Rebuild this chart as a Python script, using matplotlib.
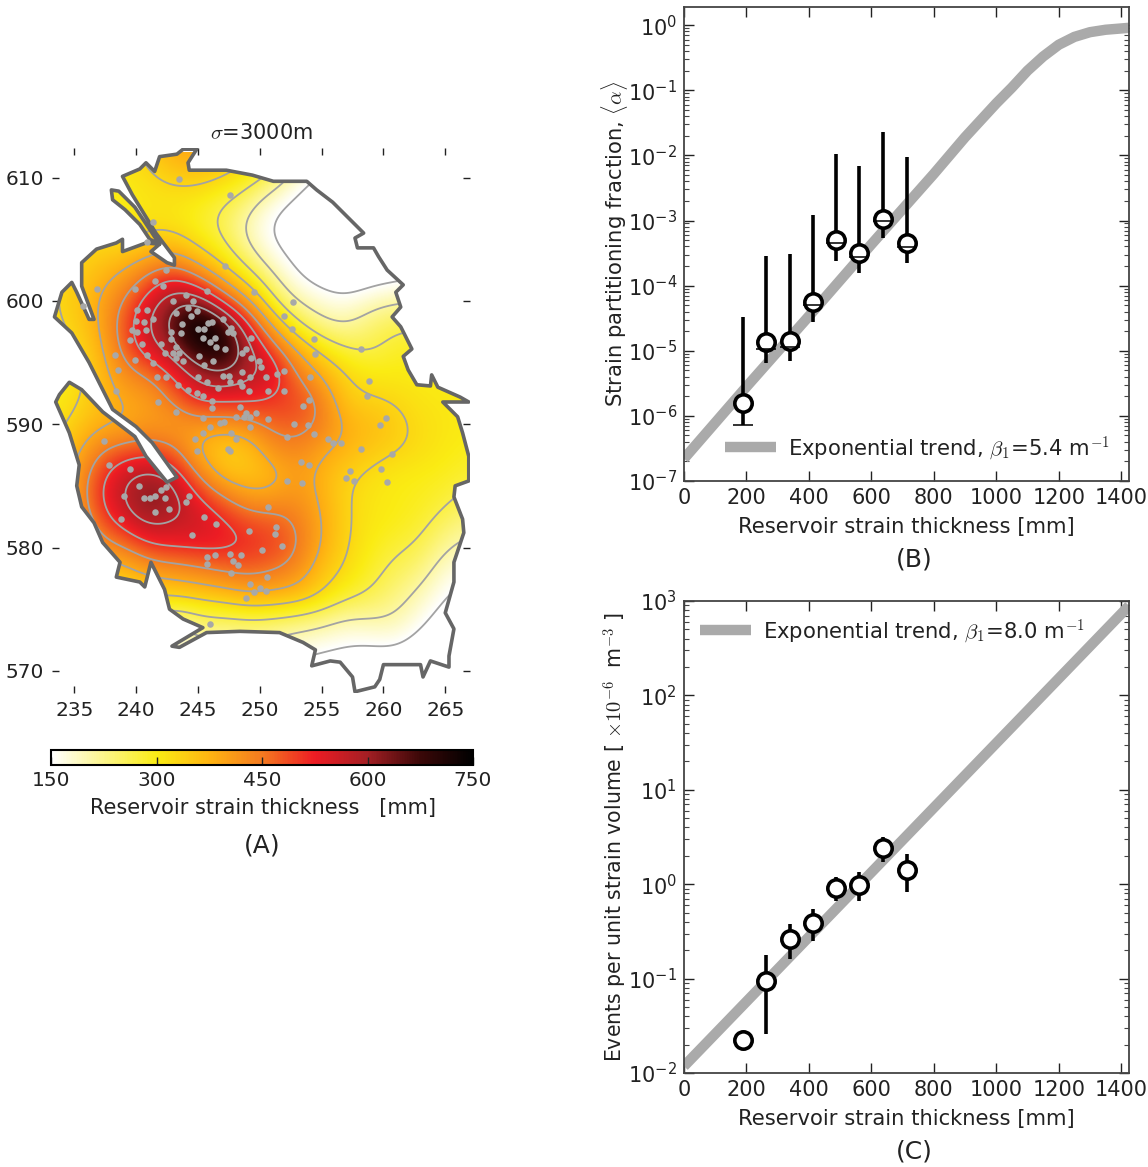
import numpy as np
import matplotlib
matplotlib.use("Agg")
import matplotlib.pyplot as plt
import matplotlib.ticker as mticker
import matplotlib.tri as mtri
from matplotlib.colors import LinearSegmentedColormap
from matplotlib.path import Path
from matplotlib.patches import PathPatch

W, H = 1148, 1167
plt.rcParams["font.family"] = "DejaVu Sans"
plt.rcParams["mathtext.fontset"] = "dejavusans"

# thickness [mm], one list per easting, northing 612 down to 568
grid_y = [612, 610, 608, 606, 604, 602, 600, 598, 596, 594, 592, 590, 588, 586, 584, 582, 580, 578, 576, 574, 572, 570, 568]
grid_x = [233, 235, 237, 239, 241, 243, 245, 247, 249, 251, 253, 255, 257, 259, 261, 263, 265, 267]
c233 = [300, 300, 300, 300, 305, 315, 320, 315, 305, 295, 295, 305, 320, 330, 330, 320, 295, 265, 230, 195, 170, 145, 125]
c235 = [300, 300, 300, 305, 320, 340, 345, 340, 320, 310, 320, 340, 370, 390, 395, 370, 330, 290, 250, 210, 180, 150, 130]
c237 = [310, 300, 300, 305, 340, 370, 390, 385, 370, 360, 360, 380, 440, 495, 510, 480, 420, 350, 290, 240, 200, 160, 130]
c239 = [320, 305, 300, 305, 345, 400, 450, 480, 470, 425, 395, 385, 470, 555, 575, 530, 440, 360, 300, 240, 200, 160, 130]
c241 = [340, 320, 310, 320, 370, 460, 540, 575, 540, 450, 400, 410, 480, 590, 635, 590, 500, 400, 330, 250, 200, 160, 130]
c243 = [390, 340, 310, 315, 385, 510, 615, 650, 600, 510, 460, 395, 460, 545, 605, 565, 515, 410, 332, 205, 170, 135, 110]
c245 = [400, 345, 300, 290, 335, 445, 620, 770, 700, 590, 530, 420, 370, 440, 520, 565, 520, 430, 340, 250, 190, 150, 130]
c247 = [380, 330, 275, 260, 295, 370, 490, 700, 720, 630, 520, 415, 345, 355, 460, 525, 525, 450, 350, 250, 190, 150, 130]
c249 = [350, 300, 240, 195, 225, 300, 400, 530, 600, 585, 520, 430, 350, 350, 405, 490, 510, 465, 380, 255, 200, 160, 130]
c251 = [310, 265, 170, 140, 160, 220, 285, 385, 490, 565, 500, 470, 425, 365, 405, 480, 495, 450, 370, 250, 195, 150, 120]
c253 = [250, 185, 135, 120, 130, 150, 205, 285, 385, 450, 495, 470, 440, 410, 420, 450, 460, 425, 360, 240, 170, 130, 110]
c255 = [200, 135, 105, 100, 105, 125, 175, 225, 320, 385, 445, 445, 395, 375, 385, 390, 385, 350, 325, 225, 160, 120, 100]
c257 = [150, 105, 85, 85, 95, 110, 160, 210, 275, 330, 345, 380, 375, 340, 330, 335, 330, 320, 280, 195, 150, 110, 95]
c259 = [110, 90, 80, 85, 100, 120, 190, 245, 265, 305, 335, 365, 350, 320, 310, 305, 300, 285, 262, 205, 145, 110, 90]
c261 = [90, 80, 80, 85, 100, 130, 205, 265, 290, 305, 325, 345, 335, 305, 300, 300, 275, 255, 230, 205, 150, 110, 90]
c263 = [90, 80, 80, 85, 100, 150, 210, 270, 290, 300, 310, 320, 320, 300, 295, 285, 265, 235, 195, 160, 120, 100, 90]
c265 = [90, 90, 90, 100, 120, 160, 220, 270, 290, 300, 305, 310, 305, 295, 280, 250, 215, 175, 150, 120, 100, 90, 90]
c267 = [100, 100, 110, 120, 150, 190, 240, 280, 295, 300, 300, 300, 295, 280, 255, 225, 190, 155, 125, 105, 90, 90, 90]

outline_x = [238.9, 240.3, 240.8, 241.5, 241.9, 243.3, 243.8, 244.9, 244.2, 244.3, 247.3, 249.4, 251.1, 253.8, 254.6, 255.9, 257.3, 258.4, 257.7, 257.9,
             259.2, 259.6, 260.3, 261.6, 261.0, 261.4, 260.7, 261.4, 262.3, 261.6, 262.0, 262.7, 263.8, 263.9, 264.4, 266.2, 266.9, 264.8, 266.0, 266.4,
             266.9, 266.9, 265.8, 265.7, 266.4, 266.5, 265.7, 265.7, 265.0, 265.7, 265.3, 265.3, 263.8, 263.2, 263.0, 260.0, 259.7, 259.3, 257.7, 257.5,
             256.5, 255.7, 254.2, 254.5, 253.5, 251.6, 248.4, 245.7, 243.5, 242.9, 245.4, 243.8, 242.7, 242.3, 241.2, 240.7, 240.3, 238.4, 238.7, 237.3,
             236.6, 235.6, 235.2, 235.4, 234.6, 233.5, 233.8, 234.6, 235.6, 237.3, 239.9, 240.8, 242.5, 243.3, 241.3, 240.0, 238.1, 237.6, 236.2, 234.8,
             233.4, 234.0, 234.8, 235.2, 236.2, 236.6, 235.6, 235.6, 236.8, 238.4, 238.9, 238.9, 240.8, 241.9, 241.2, 242.5, 243.1, 243.1, 241.6, 239.7]
outline_y = [610.1, 610.7, 611.2, 610.5, 611.7, 611.9, 612.3, 612.3, 611.2, 610.6, 610.6, 610.2, 609.7, 609.7, 609.0, 608.0, 606.6, 605.5, 605.1, 604.3,
             604.3, 603.6, 602.5, 601.3, 600.7, 599.5, 598.7, 597.9, 596.1, 595.5, 594.4, 593.2, 593.1, 594.0, 593.0, 592.2, 591.8, 591.8, 590.6, 589.3,
             587.4, 585.4, 585.0, 584.1, 582.3, 581.2, 578.8, 577.2, 574.7, 573.4, 571.2, 570.3, 570.8, 569.5, 570.5, 570.5, 569.3, 568.7, 568.3, 569.5,
             570.7, 570.8, 570.4, 571.7, 572.3, 573.1, 573.2, 573.1, 571.9, 572.0, 573.5, 574.2, 575.0, 576.6, 578.8, 576.8, 577.2, 577.6, 578.8, 580.4,
             582.0, 583.3, 585.0, 586.7, 589.3, 591.8, 592.4, 593.4, 592.8, 591.0, 589.0, 587.4, 585.3, 585.7, 588.5, 589.8, 591.2, 592.2, 595.0, 597.4,
             598.7, 600.7, 601.5, 600.7, 598.5, 598.5, 601.2, 603.1, 604.2, 604.7, 605.0, 604.0, 604.7, 604.6, 604.0, 603.1, 602.9, 603.5, 605.5, 608.6]
strip_x = [238.0, 238.6, 239.9, 241.1, 241.9, 241.1, 240.3, 239.1, 238.1]
strip_y = [609.0, 608.9, 607.6, 605.8, 604.6, 605.0, 606.2, 607.4, 608.2]

well_x = [243.5, 247.6, 241.4, 240.9, 247.2, 242.4, 241.5, 242.2, 239.9, 236.8, 235.7, 245.7, 249.5, 244.0, 243.0, 244.6, 244.2, 240.1, 240.9, 243.2,
          244.9, 244.4, 240.0, 241.4, 240.6, 246.1, 245.8, 247.0, 245.0, 245.5, 243.7, 247.7, 247.4, 240.1, 239.7, 240.8, 242.8, 243.6, 239.5, 240.5,
          245.4, 246.4, 246.0, 242.8, 242.0, 243.2, 246.5, 247.2, 247.8, 249.3, 248.9, 240.9, 238.3, 239.9, 241.4, 242.3, 243.0, 243.5, 243.2, 243.8,
          245.1, 245.5, 246.2, 248.6, 249.3, 249.9, 250.1, 238.5, 242.4, 241.7, 245.0, 245.7, 247.0, 247.5, 248.6, 250.5, 251.4, 249.2, 248.4, 247.6,
          243.4, 238.4, 244.2, 244.9, 245.4, 246.6, 248.6, 249.1, 250.7, 241.8, 246.1, 243.2, 248.4, 246.1, 248.9, 248.1, 248.7, 249.2, 245.4,
          252.7, 252.0, 252.6, 254.4, 254.5, 258.2, 258.8, 258.7, 254.1, 252.0, 252.0, 254.0, 253.5, 260.2, 259.7, 255.5, 255.9, 256.6, 258.2, 260.7,
          253.3, 254.0, 252.2, 253.4, 257.3, 257.0, 257.6, 259.8, 260.3, 250.7, 251.3, 249.1, 251.2, 251.8, 250.2, 248.5, 250.6, 249.2, 250.0, 249.5,
          250.5, 248.9, 249.2, 250.7, 252.2, 252.8, 253.9, 254.4, 237.4, 237.8, 239.5, 240.2, 239.0, 240.6, 241.1, 241.5, 242.3, 242.0, 242.4, 244.3,
          244.0, 241.5, 242.7, 238.8, 245.5, 246.5, 244.5, 247.6, 246.4, 245.7, 245.7, 247.8, 248.2, 247.7, 244.8, 244.9, 245.4, 246.0, 246.8, 247.1,
          248.1, 247.7, 247.4, 247.6, 249.7, 246.0]
well_y = [609.9, 608.6, 606.4, 604.8, 602.8, 602.5, 601.6, 601.2, 601.0, 601.0, 599.6, 600.8, 600.7, 600.5, 600.0, 600.0, 599.4, 599.3, 599.3, 599.0,
          599.2, 598.8, 598.4, 598.5, 598.3, 598.3, 598.2, 598.5, 597.7, 597.7, 598.1, 597.8, 597.5, 597.5, 597.6, 597.6, 597.5, 597.4, 596.8, 596.5,
          597.0, 597.0, 596.7, 596.9, 596.5, 596.3, 596.3, 596.1, 597.4, 597.0, 596.1, 595.6, 595.6, 595.2, 595.0, 595.8, 595.8, 595.8, 595.4, 595.1,
          595.5, 594.8, 595.1, 595.8, 595.4, 595.1, 594.6, 594.4, 593.8, 593.8, 593.8, 593.4, 593.9, 593.9, 594.2, 593.8, 594.1, 593.8, 593.4, 593.4,
          593.2, 592.7, 592.8, 592.5, 592.3, 592.9, 593.1, 592.7, 592.7, 591.8, 591.9, 591.0, 591.4, 591.3, 590.9, 590.6, 590.6, 590.6, 590.5,
          599.9, 598.8, 597.7, 596.9, 595.7, 596.1, 593.5, 592.3, 593.8, 594.3, 592.7, 592.0, 591.5, 590.5, 589.9, 588.8, 588.5, 588.5, 588.0, 587.6,
          586.9, 586.7, 585.4, 585.2, 586.2, 585.6, 585.4, 586.4, 585.3, 583.3, 581.7, 581.3, 581.1, 580.1, 579.8, 579.4, 577.6, 577.0, 576.7, 576.4,
          576.5, 575.9, 589.8, 590.4, 589.0, 590.0, 589.9, 589.2, 588.6, 586.7, 586.4, 585.0, 584.2, 584.0, 584.0, 584.2, 584.0, 584.7, 584.9, 584.2,
          583.7, 582.9, 583.1, 582.3, 582.5, 581.9, 581.0, 579.5, 579.4, 579.2, 578.7, 578.9, 578.6, 577.9, 588.8, 587.8, 589.3, 589.8, 590.1, 590.2,
          588.8, 589.3, 588.0, 587.8, 590.9, 573.8]

# panels B and C
thickness = [188, 262, 338, 413, 487, 561, 637, 713]
alpha_mean = [1.55e-6, 1.35e-5, 1.43e-5, 5.7e-5, 5.0e-4, 3.2e-4, 1.07e-3, 4.5e-4]
alpha_hi = [3.3e-5, 2.9e-4, 3.1e-4, 1.22e-3, 1.05e-2, 6.9e-3, 2.3e-2, 9.4e-3]
alpha_lo = [7.2e-7, 6.6e-6, 7.0e-6, 2.8e-5, 2.4e-4, 1.55e-4, 5.3e-4, 2.2e-4]
alpha_cap = [7.2e-7, 1.06e-5, 1.16e-5, 5.0e-5, 4.5e-4, 2.8e-4, 1.0e-3, 3.9e-4]
trend_b_x = [0, 200, 400, 600, 800, 900, 1000, 1050, 1100, 1150, 1200, 1250, 1300, 1350, 1425]
trend_b_y = [2.2e-7, 2.8e-6, 3.4e-5, 4.3e-4, 5.2e-3, 1.9e-2, 6.3e-2, 0.11, 0.2, 0.33, 0.5, 0.66, 0.78, 0.85, 0.91]

events = [0.0225, 0.094, 0.26, 0.39, 0.91, 0.98, 2.4, 1.43]
events_hi = [np.nan, 0.178, 0.38, 0.55, 1.2, 1.35, 3.2, 2.1]
events_lo = [np.nan, 0.026, 0.16, 0.25, 0.66, 0.66, 1.7, 0.82]
trend_c_x = [0, 1425]
trend_c_y = [0.0118, 890]

x_ticks = [0, 200, 400, 600, 800, 1000, 1200, 1400]
cbar_ticks = [150, 300, 450, 600, 750]
levels = [150, 210, 270, 330, 390, 450, 510, 570, 630]

cmap = LinearSegmentedColormap.from_list("strain", [
    (0.0, "#ffffff"), (0.25, "#faec14"), (0.375, "#ffb412"), (0.5, "#f47a20"),
    (0.625, "#ed1c24"), (0.75, "#a41f24"), (0.875, "#3c0808"), (1.0, "#000000")])


def px_axes(left, top, right, bottom):
    return fig.add_axes([left / W, 1 - bottom / H, (right - left) / W, (bottom - top) / H])


def fig_text(x, y, s, size):
    return fig.text(x / W, 1 - y / H, s, fontsize=size, ha="center", va="center", color="#222222")


def blur(z, sig):
    # gaussian smoothing of the table, sig in samples
    half = int(3 * sig)
    k = np.exp(-0.5 * (np.arange(-half, half + 1) / sig) ** 2)
    k = k / k.sum()
    p = np.pad(z, half, mode="edge")
    p = np.apply_along_axis(lambda r: np.convolve(r, k, mode="same"), 0, p)
    p = np.apply_along_axis(lambda r: np.convolve(r, k, mode="same"), 1, p)
    return p[half:-half, half:-half]


fig = plt.figure(figsize=(W / 100, H / 100), dpi=100)

# (A) map
ax = px_axes(52, 148, 470, 693)
table = np.column_stack([c233, c235, c237, c239, c241, c243, c245, c247, c249, c251, c253, c255,
                         c257, c259, c261, c263, c265, c267])
gx, gy = np.meshgrid(grid_x, grid_y)
tri = mtri.Triangulation(gx.ravel(), gy.ravel())
interp = mtri.CubicTriInterpolator(tri, table.ravel().astype(float), kind="geom")
fx = np.linspace(233, 267, 500)
fy = np.linspace(568, 612, 640)
mx, my = np.meshgrid(fx, fy)
field = blur(interp(mx, my).filled(np.nan), 1.1 / (fx[1] - fx[0]))

im = ax.imshow(field, extent=[233, 267, 568, 612], origin="lower", aspect="auto",
               cmap=cmap, vmin=150, vmax=750, interpolation="bilinear")
cs = ax.contour(mx, my, field, levels=levels, colors="#a3a3a3", linewidths=1.3)

main = np.column_stack([outline_x + outline_x[:1], outline_y + outline_y[:1]])
strip = np.column_stack([strip_x + strip_x[:1], strip_y + strip_y[:1]])
region = Path.make_compound_path(Path(main, closed=True), Path(strip, closed=True))
border = PathPatch(region, facecolor="none", edgecolor="#666666", lw=2.6, zorder=3, joinstyle="round")
ax.add_patch(border)
im.set_clip_path(border)
cs.set_clip_path(border)
ax.scatter(well_x, well_y, s=22, color="#a8a8a8", linewidths=0, zorder=4)

ax.set_xlim(233.2, 267.0)
ax.set_ylim(568.2, 612.4)
ax.set_xticks([235, 240, 245, 250, 255, 260, 265])
ax.set_yticks([570, 580, 590, 600, 610])
ax.tick_params(direction="in", length=5, width=1, top=True, right=True, labelsize=14.5, colors="#222222", pad=6)
for side in ax.spines.values():
    side.set_visible(False)
fig_text(262, 133, r"$\sigma$=3000m", 15).set_math_fontfamily("cm")

# colour bar
cax = px_axes(51, 750, 473, 765)
cb = fig.colorbar(im, cax=cax, orientation="horizontal", ticks=cbar_ticks)
cb.ax.tick_params(direction="in", length=6, width=1, labelsize=14.5, colors="#222222", pad=4)
cb.outline.set_linewidth(1.5)
fig_text(263, 808, "Reservoir strain thickness   [mm]", 15)
fig_text(262, 845, "(A)", 18)


def style_panel(a, xlabel):
    a.set_xlim(0, 1425)
    a.set_xticks(x_ticks)
    a.set_yscale("log")
    a.set_xlabel(xlabel, fontsize=15.2, color="#222222", labelpad=6.5)
    a.tick_params(which="major", direction="in", length=7, width=1, top=True, right=True,
                  labelsize=15, colors="#222222", pad=5)
    a.tick_params(which="minor", direction="in", length=3.5, width=0.8, top=False, right=True, colors="#444444")
    a.yaxis.set_minor_locator(mticker.LogLocator(base=10, subs=range(2, 10), numticks=15))
    a.yaxis.set_minor_formatter(mticker.NullFormatter())
    for side in a.spines.values():
        side.set_linewidth(1.3)
        side.set_color("#444444")


def finish_legend(a, anchor):
    leg = a.legend(loc="center left", bbox_to_anchor=anchor, frameon=False, fontsize=15.2,
                   handlelength=2.4, borderpad=0, borderaxespad=0, handletextpad=0.6)
    for t in leg.get_texts():
        t.set_math_fontfamily("cm")
        t.set_color("#222222")


# (B)
axb = px_axes(684, 7, 1129, 481)
axb.plot(trend_b_x, trend_b_y, color="#aaaaaa", lw=7.5, solid_capstyle="butt",
         label=r"Exponential trend, $\beta_1$=5.4 m$^{-1}$")
axb.vlines(thickness, alpha_lo, alpha_hi, color="black", lw=2.6, zorder=3)
axb.plot(thickness, alpha_mean, "o", mfc="white", mec="black", ms=12.5, mew=2.6, zorder=4)
axb.plot(thickness, alpha_cap, "_", color="black", ms=15, mew=1.4, alpha=0.8, zorder=5)
style_panel(axb, "Reservoir strain thickness [mm]")
axb.set_ylim(1e-7, 1.9)
axb.set_yticks([10.0 ** k for k in range(-7, 1)])
axb.set_ylabel(r"Strain partitioning fraction, $\langle\alpha\rangle$", fontsize=15.2, color="#222222",
               labelpad=-2, math_fontfamily="cm")
finish_legend(axb, (41 / 445, 33 / 474))
fig_text(914, 560, "(B)", 18)

# (C)
axc = px_axes(684, 601, 1129, 1073)
axc.plot(trend_c_x, trend_c_y, color="#aaaaaa", lw=7.5, solid_capstyle="butt",
         label=r"Exponential trend, $\beta_1$=8.0 m$^{-1}$")
axc.vlines(thickness, events_lo, events_hi, color="black", lw=2.6, zorder=3)
axc.plot(thickness, events, "o", mfc="white", mec="black", ms=12.5, mew=2.6, zorder=5)
style_panel(axc, "Reservoir strain thickness [mm]")
axc.set_ylim(1e-2, 1e3)
axc.set_yticks([10.0 ** k for k in range(-2, 4)])
axc.set_ylabel(r"Events per unit strain volume [ $\times 10^{-6}$  m$^{-3}$ ]", fontsize=14.8, color="#222222",
               labelpad=-1, math_fontfamily="cm")
finish_legend(axc, (16 / 445, 442 / 472))
fig_text(914, 1152, "(C)", 18)

fig.savefig("out.png", dpi=100)
